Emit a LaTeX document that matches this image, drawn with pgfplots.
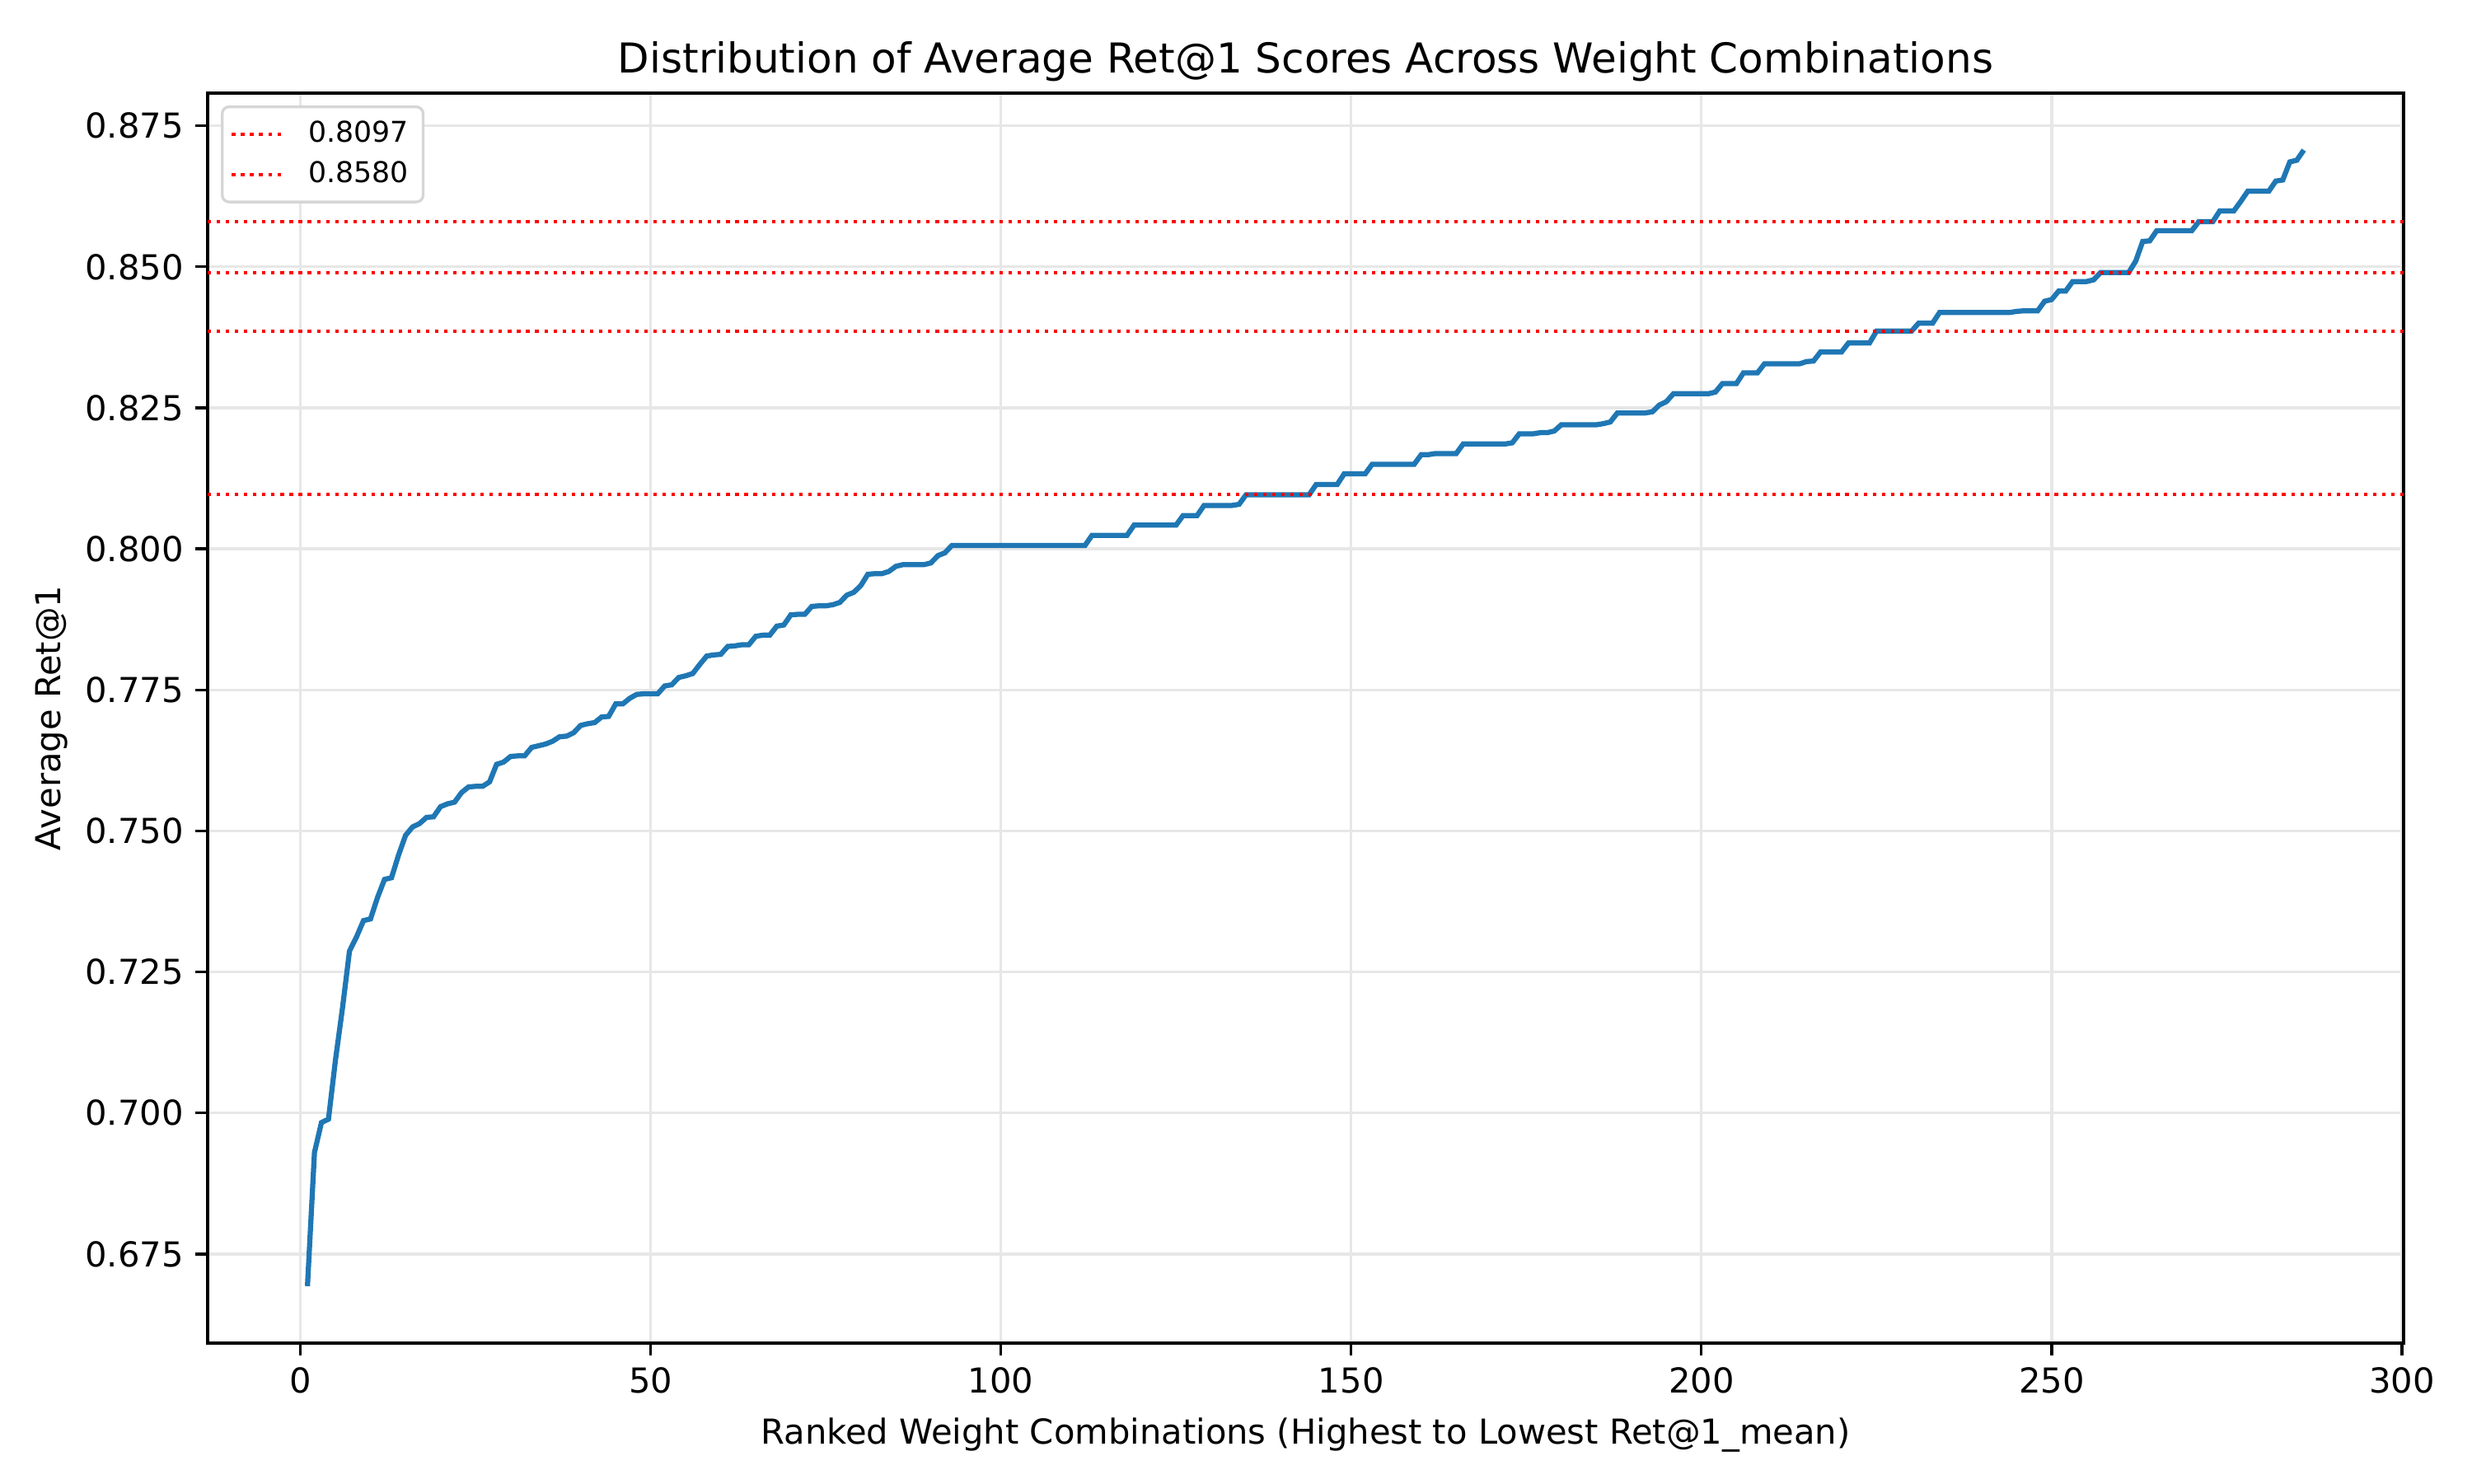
\documentclass[border=0pt]{standalone}
\usepackage{fontspec}
\setmainfont{DejaVu Sans}
\usepackage{pgfplots}
\usepackage{pgfplotstable}
\pgfplotsset{compat=1.18}
\definecolor{mplblue}{HTML}{1F77B4}
\definecolor{gridc}{RGB}{231,231,231}
\definecolor{legframe}{RGB}{214,214,214}
\pgfplotstableread{
x y
1 0.6693
2 0.6930
3 0.6983
4 0.6989
5 0.7094
6 0.7186
7 0.7287
8 0.7312
9 0.7341
10 0.7344
11 0.7382
12 0.7414
13 0.7417
14 0.7457
15 0.7492
16 0.7507
17 0.7513
18 0.7524
19 0.7525
20 0.7543
21 0.7548
22 0.7551
23 0.7568
24 0.7578
25 0.7579
26 0.7579
27 0.7587
28 0.7618
29 0.7622
30 0.7632
31 0.7633
32 0.7633
33 0.7648
34 0.7651
35 0.7654
36 0.7659
37 0.7667
38 0.7668
39 0.7674
40 0.7687
41 0.7690
42 0.7692
43 0.7702
44 0.7703
45 0.7725
46 0.7725
47 0.7735
48 0.7742
49 0.7743
50 0.7743
51 0.7743
52 0.7757
53 0.7759
54 0.7772
55 0.7775
56 0.7779
57 0.7795
58 0.7810
59 0.7812
60 0.7813
61 0.7827
62 0.7828
63 0.7830
64 0.7830
65 0.7845
66 0.7847
67 0.7847
68 0.7863
69 0.7865
70 0.7883
71 0.7884
72 0.7884
73 0.7898
74 0.7899
75 0.7899
76 0.7901
77 0.7905
78 0.7918
79 0.7923
80 0.7935
81 0.7955
82 0.7956
83 0.7956
84 0.7960
85 0.7969
86 0.7972
87 0.7972
88 0.7972
89 0.7972
90 0.7975
91 0.7988
92 0.7993
93 0.8006
94 0.8006
95 0.8006
96 0.8006
97 0.8006
98 0.8006
99 0.8006
100 0.8006
101 0.8006
102 0.8006
103 0.8006
104 0.8006
105 0.8006
106 0.8006
107 0.8006
108 0.8006
109 0.8006
110 0.8006
111 0.8006
112 0.8006
113 0.8024
114 0.8024
115 0.8024
116 0.8024
117 0.8024
118 0.8024
119 0.8042
120 0.8042
121 0.8042
122 0.8042
123 0.8042
124 0.8042
125 0.8042
126 0.8059
127 0.8059
128 0.8059
129 0.8077
130 0.8077
131 0.8077
132 0.8077
133 0.8077
134 0.8079
135 0.8096
136 0.8096
137 0.8096
138 0.8096
139 0.8096
140 0.8096
141 0.8096
142 0.8096
143 0.8096
144 0.8096
145 0.8114
146 0.8114
147 0.8114
148 0.8114
149 0.8133
150 0.8133
151 0.8133
152 0.8133
153 0.8150
154 0.8150
155 0.8150
156 0.8150
157 0.8150
158 0.8150
159 0.8150
160 0.8167
161 0.8167
162 0.8169
163 0.8169
164 0.8169
165 0.8169
166 0.8186
167 0.8186
168 0.8186
169 0.8186
170 0.8186
171 0.8186
172 0.8186
173 0.8188
174 0.8204
175 0.8204
176 0.8204
177 0.8206
178 0.8206
179 0.8209
180 0.8220
181 0.8220
182 0.8220
183 0.8220
184 0.8220
185 0.8220
186 0.8222
187 0.8225
188 0.8241
189 0.8241
190 0.8241
191 0.8241
192 0.8241
193 0.8243
194 0.8255
195 0.8261
196 0.8275
197 0.8275
198 0.8275
199 0.8275
200 0.8275
201 0.8275
202 0.8278
203 0.8293
204 0.8293
205 0.8293
206 0.8312
207 0.8312
208 0.8312
209 0.8328
210 0.8328
211 0.8328
212 0.8328
213 0.8328
214 0.8328
215 0.8332
216 0.8333
217 0.8349
218 0.8349
219 0.8349
220 0.8349
221 0.8365
222 0.8365
223 0.8365
224 0.8365
225 0.8386
226 0.8386
227 0.8386
228 0.8386
229 0.8386
230 0.8386
231 0.8400
232 0.8400
233 0.8400
234 0.8419
235 0.8419
236 0.8419
237 0.8419
238 0.8419
239 0.8419
240 0.8419
241 0.8419
242 0.8419
243 0.8419
244 0.8419
245 0.8421
246 0.8422
247 0.8422
248 0.8422
249 0.8439
250 0.8442
251 0.8457
252 0.8457
253 0.8474
254 0.8474
255 0.8474
256 0.8477
257 0.8490
258 0.8490
259 0.8490
260 0.8490
261 0.8490
262 0.8510
263 0.8545
264 0.8546
265 0.8564
266 0.8564
267 0.8564
268 0.8564
269 0.8564
270 0.8564
271 0.8580
272 0.8580
273 0.8580
274 0.8599
275 0.8599
276 0.8599
277 0.8616
278 0.8634
279 0.8634
280 0.8634
281 0.8634
282 0.8652
283 0.8654
284 0.8686
285 0.8689
286 0.8707
}\curvedata
\begin{document}
\begin{tikzpicture}
\path (0,0) rectangle (720bp,432bp);
\begin{axis}[
  at={(60.48bp,40.8bp)}, anchor=south west,
  scale only axis, width=639.6bp, height=364.08bp,
  xmin=-13.25, xmax=300.25, ymin=0.6592, ymax=0.8808,
  xtick={0,50,100,150,200,250,300},
  ytick={0.675,0.700,0.725,0.750,0.775,0.800,0.825,0.850,0.875},
  yticklabel style={/pgf/number format/.cd, fixed, fixed zerofill, precision=3},
  /pgf/number format/assume math mode=true,
  scaled y ticks=false,
  tick align=outside, major tick length=3.5bp,
  tick style={line width=0.8bp, black},
  xtick pos=bottom, ytick pos=left,
  axis line style={line width=0.8bp},
  grid=major, major grid style={line width=0.8bp, gridc},
  ticklabel style={font=\fontsize{10.04}{12}\selectfont},
  label style={font=\fontsize{10.04}{12}\selectfont},
  title style={font=\fontsize{12.05}{14}\selectfont, at={(axis description cs:0.5,1.0087)}, anchor=center},
  title={Distribution of Average Ret@1 Scores Across Weight Combinations},
  xlabel={Ranked Weight Combinations (Highest to Lowest Ret@1\_mean)},
  ylabel={Average Ret@1},
  xlabel style={at={(axis description cs:0.5,-0.0738)}, anchor=center},
  ylabel style={at={(axis description cs:-0.0709,0.5)}, anchor=center},
  legend style={at={(axis description cs:0,1)}, anchor=north west, xshift=3.84bp, yshift=-3.6bp,
    draw=legframe, line width=0.8bp, rounded corners=2bp, fill=white,
    font=\fontsize{8.36}{10}\selectfont, row sep=0bp, inner xsep=2.3bp, inner ysep=2.2bp,
    /tikz/every odd column/.append style={column sep=4.8bp}},
  legend cell align=left,
  legend image code/.code={\draw[#1] (0bp,0bp) -- (15bp,0bp);},
]
\addplot[mplblue, line width=1.5bp, forget plot] table[x=x,y=y] {\curvedata};
\addplot[red, line width=1bp, dash pattern=on 1bp off 1.65bp] coordinates {(-13.25,0.8097) (300.25,0.8097)};
\addlegendentry{0.8097}
\addplot[red, line width=1bp, dash pattern=on 1bp off 1.65bp] coordinates {(-13.25,0.8580) (300.25,0.8580)};
\addlegendentry{0.8580}
\addplot[red, line width=1bp, dash pattern=on 1bp off 1.65bp, forget plot] coordinates {(-13.25,0.8386) (300.25,0.8386)};
\addplot[red, line width=1bp, dash pattern=on 1bp off 1.65bp, forget plot] coordinates {(-13.25,0.8489) (300.25,0.8489)};
\end{axis}
\end{tikzpicture}
\end{document}
